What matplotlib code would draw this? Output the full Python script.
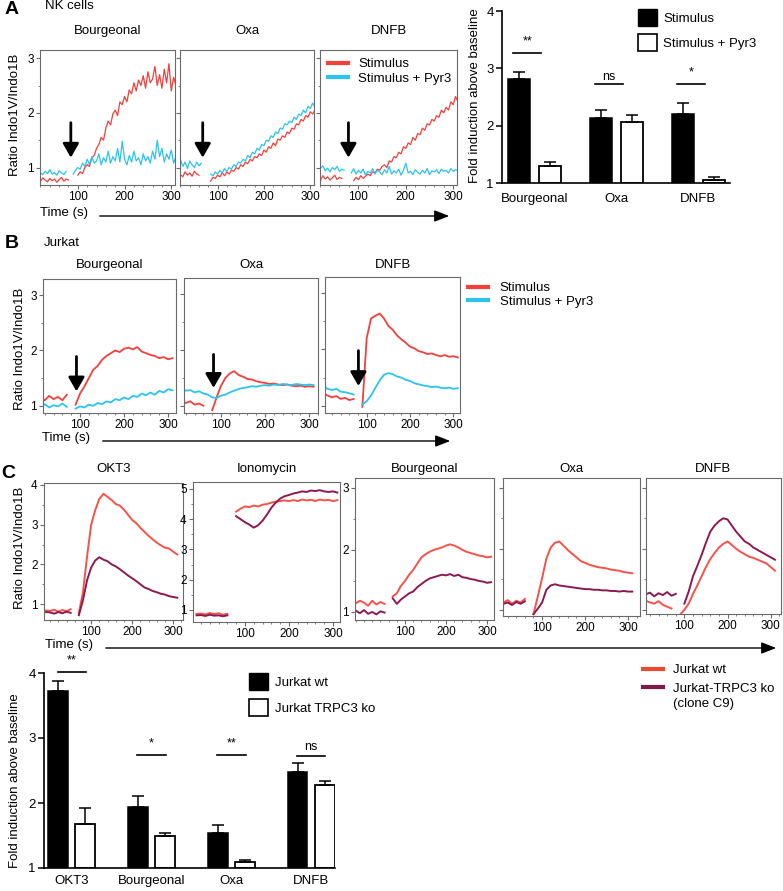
import numpy as np
import matplotlib
matplotlib.use('Agg')
import matplotlib.pyplot as plt
from matplotlib.ticker import MultipleLocator
from matplotlib.lines import Line2D
from matplotlib.patches import Patch, FancyArrowPatch

plt.rcParams['font.family'] = ['Liberation Sans', 'DejaVu Sans']
plt.rcParams['font.size'] = 9

nan = np.nan
W, H = 783, 891

RED = '#f2403c'
CYAN = '#2cc3ee'
WT = '#f4534a'
KO = '#8c1a52'

# ---------------- panel A: NK cells, sampled every 5 s ----------------
tA = np.arange(0, 315, 5)
a_names = ['Bourgeonal', 'Oxa', 'DNFB']
a_stim = [
    [0.76, 0.80, 0.74, 0.79, 0.75, 0.81, 0.77, 0.74, 0.80, 0.76, 0.79, 0.73, 0.78, 0.82, 0.75, 0.79, 0.77,
     nan, nan, nan,
     0.86, 0.92, 0.89, 1.0, 1.05, 1.02, 1.18, 1.22, 1.35, 1.42,
     1.55, 1.5, 1.72, 1.85, 1.78, 1.98, 2.05, 1.95, 2.2, 2.15,
     2.3, 2.2, 2.42, 2.35, 2.55, 2.4, 2.6, 2.5, 2.68, 2.45,
     2.75, 2.55, 2.62, 2.85, 2.5, 2.7, 2.45, 2.8, 2.55, 2.9,
     2.4, 2.65, 2.5],
    [0.85, 0.9, 0.82, 0.95, 0.87, 0.83, 0.92, 0.86, 0.9, 0.84, 0.93, 0.88, 0.86,
     nan, nan, nan, nan,
     0.75, 0.82, 0.8, 0.86, 0.83, 0.9, 0.85, 0.92, 0.88, 0.95,
     0.93, 1.0, 0.97, 1.05, 1.02, 1.1, 1.07, 1.15, 1.12, 1.2,
     1.18, 1.25, 1.22, 1.32, 1.28, 1.38, 1.35, 1.45, 1.4, 1.52,
     1.5, 1.58, 1.55, 1.65, 1.62, 1.72, 1.7, 1.8, 1.78, 1.88,
     1.85, 1.95, 1.92, 2.02, 1.98, 2.05],
    [0.8, 0.84, 0.78, 0.82, 0.76, 0.85, 0.79, 0.83, 0.77, 0.81, 0.86, 0.78, 0.82, 0.8,
     nan, nan, nan, nan,
     0.76, 0.82, 0.78, 0.85, 0.8, 0.84, 0.88, 0.85, 0.92, 0.9,
     0.97, 0.95, 1.02, 1.05, 1.0, 1.12, 1.1, 1.2, 1.18, 1.28,
     1.25, 1.38, 1.35, 1.45, 1.42, 1.55, 1.5, 1.62, 1.6, 1.72,
     1.68, 1.8, 1.78, 1.88, 1.85, 1.95, 1.92, 2.05, 2.0, 2.1,
     2.05, 2.2, 2.15, 2.3, 2.2],
]
a_pyr3 = [
    [0.88, 0.92, 0.86, 0.95, 0.90, 0.87, 0.93, 0.89, 0.96, 0.88, 0.91, 0.86, 0.94, 0.90, 0.87, 0.93,
     nan, nan,
     0.88, 0.95, 1.0, 0.97, 1.08, 1.02, 1.15, 1.05, 1.2, 1.08,
     1.12, 1.25, 1.05, 1.18, 1.1, 1.3, 1.08, 1.2, 1.12, 1.35,
     1.1, 1.48, 1.15, 1.05, 1.22, 1.1, 1.3, 1.12, 1.18, 1.05,
     1.25, 1.12, 1.2, 1.08, 1.3, 1.15, 1.5, 1.2, 1.35, 1.1,
     1.25, 1.15, 1.32, 1.08, 1.2],
    [1.05, 1.12, 1.0, 1.08, 1.15, 1.02, 1.1, 0.98, 1.12, 1.05, 1.0, 1.1, 1.03, 1.08,
     nan, nan, nan,
     0.88, 0.85, 0.92, 0.88, 0.95, 0.9, 0.98, 0.93, 1.0, 0.97,
     1.05, 1.02, 1.1, 1.08, 1.15, 1.12, 1.22, 1.18, 1.28, 1.25,
     1.35, 1.32, 1.42, 1.4, 1.5, 1.48, 1.58, 1.55, 1.65, 1.62,
     1.72, 1.7, 1.8, 1.78, 1.85, 1.82, 1.92, 1.88, 1.98, 1.95,
     2.05, 2.0, 2.12, 2.08, 2.18, 2.1],
    [1.0, 0.95, 1.02, 0.93, 0.98, 1.03, 0.94, 0.99, 0.92, 1.0, 0.96, 1.02, 0.93, 0.97, 0.95,
     nan, nan,
     0.9, 0.98, 0.88, 0.95, 0.9, 0.97, 0.86, 0.93, 0.9, 0.98,
     0.88, 0.95, 0.92, 0.87, 0.96, 0.9, 1.02, 0.88, 0.94, 0.9,
     0.97, 0.86, 0.95, 1.08, 0.9, 0.93, 0.87, 0.96, 0.91, 0.88,
     0.95, 0.9, 0.98, 0.87, 0.94, 0.92, 0.96, 0.89, 0.97, 0.93,
     0.95, 0.9, 0.98, 0.93, 0.96, 0.94],
]
a_arrow_t = [85, 68, 79]

# bar chart A
a_bar_groups = ['Bourgeonal', 'Oxa', 'DNFB']
a_bar_stim = [2.82, 2.14, 2.2]
a_bar_stim_err = [0.12, 0.14, 0.19]
a_bar_pyr3 = [1.3, 2.07, 1.05]
a_bar_pyr3_err = [0.06, 0.11, 0.05]
a_sig = ['**', 'ns', '*']
a_sig_y = [3.27, 2.72, 2.72]

# ---------------- panel B: Jurkat, every 10 s ----------------
tB = np.arange(0, 320, 10)
b_stim = [
    [1.08, 1.14, 1.1, 1.18, 1.12, 1.16, 1.1, 1.2, nan,
     1.02, 1.22, 1.35, 1.5, 1.65, 1.72, 1.83, 1.9, 1.95, 2.0,
     1.97, 2.03, 2.05, 2.02, 2.06, 1.98, 1.95, 1.92, 1.9, 1.86,
     1.88, 1.84, 1.86],
    [1.18, 1.1, 1.05, 1.08, 1.02, 1.04, 1.0, nan,
     0.92, 1.15, 1.36, 1.5, 1.58, 1.62, 1.55, 1.52, 1.48, 1.47,
     1.44, 1.42, 1.41, 1.39, 1.4, 1.38, 1.37, 1.38, 1.36, 1.35,
     1.36, 1.34, 1.35, 1.34],
    [1.22, 1.18, 1.15, 1.17, 1.12, 1.14, 1.1, 1.12, nan,
     0.98, 2.2, 2.55, 2.6, 2.64, 2.55, 2.42, 2.35, 2.25, 2.18,
     2.12, 2.05, 2.02, 1.97, 1.95, 1.92, 1.93, 1.9, 1.88, 1.9,
     1.87, 1.88, 1.86],
]
b_pyr3 = [
    [1.02, 0.98, 1.03, 0.97, 1.01, 0.99, 1.04, 0.98, nan,
     0.95, 0.99, 0.97, 1.02, 1.0, 1.05, 1.03, 1.08, 1.06, 1.12,
     1.1, 1.15, 1.12, 1.18, 1.16, 1.22, 1.19, 1.24, 1.2, 1.27,
     1.24, 1.3, 1.28],
    [1.33, 1.3, 1.27, 1.28, 1.24, 1.26, 1.22, 1.2, 1.15, 1.14,
     1.18, 1.2, 1.24, 1.27, 1.3, 1.32, 1.33, 1.35, 1.34, 1.36,
     1.37, 1.36, 1.38, 1.37, 1.39, 1.38, 1.37, 1.39, 1.38, 1.37,
     1.38, 1.37],
    [1.34, 1.3, 1.28, 1.3, 1.25, 1.24, 1.22, 1.2, nan,
     1.02, 1.08, 1.18, 1.32, 1.45, 1.55, 1.58, 1.56, 1.52, 1.5,
     1.46, 1.44, 1.4, 1.38, 1.36, 1.35, 1.33, 1.34, 1.32, 1.31,
     1.32, 1.3, 1.31],
]
b_arrow_t = [92, 83, 81]
b_arrow_top = [1.89, 1.92, 1.98]
b_arrow_tip = [1.26, 1.32, 1.35]

# ---------------- panel C: Jurkat wt vs TRPC3 ko, every 10 s ----------------
tC = np.arange(-20, 320, 10)
c_names = ['OKT3', 'Ionomycin', 'Bourgeonal', 'Oxa', 'DNFB']
c_wt = [
    [nan, 0.84, 0.83, 0.86, 0.81, 0.85, 0.82, 0.87, nan,
     0.78, 1.3, 2.2, 3.0, 3.37, 3.65, 3.78, 3.7, 3.62, 3.52,
     3.48, 3.38, 3.25, 3.12, 3.04, 2.92, 2.82, 2.72, 2.63, 2.55,
     2.48, 2.42, 2.4, 2.32, 2.25],
    [nan, 0.87, 0.88, 0.85, 0.9, 0.86, 0.89, 0.84, 0.87, nan,
     4.25, 4.35, 4.42, 4.4, 4.45, 4.42, 4.48, 4.5, 4.55, 4.58,
     4.6, 4.62, 4.6, 4.63, 4.6, 4.65, 4.62, 4.64, 4.6, 4.65,
     4.62, 4.64, 4.6, 4.63],
    [1.14, 1.18, 1.15, 1.1, 1.18, 1.12, 1.16, 1.13, nan,
     1.25, 1.3, 1.42, 1.5, 1.6, 1.68, 1.78, 1.88, 1.93, 1.97,
     2.0, 2.02, 2.04, 2.07, 2.09, 2.07, 2.04, 2.0, 1.97, 1.95,
     1.93, 1.91, 1.9, 1.88, 1.89],
    [nan, nan, nan, 1.12, 1.16, 1.1, 1.15, 1.12, 1.18, nan,
     0.93, 1.22, 1.52, 1.84, 2.02, 2.1, 2.12, 2.05, 1.98, 1.92,
     1.86, 1.8, 1.77, 1.74, 1.72, 1.7, 1.69, 1.68, 1.66, 1.65,
     1.64, 1.62, 1.61, 1.6],
    [nan, nan, nan, 1.15, 1.12, 1.1, 1.14, 1.08, 1.05, 1.02, nan, 0.92,
     1.0, 1.1, 1.26, 1.4, 1.55, 1.7, 1.83, 1.93, 2.02, 2.08,
     2.12, 2.06, 2.0, 1.95, 1.91, 1.87, 1.85, 1.82, 1.79, 1.76,
     1.7, 1.64],
]
c_ko = [
    [nan, 0.8, 0.79, 0.76, 0.8, 0.77, 0.81, 0.78, nan,
     0.72, 1.1, 1.6, 1.92, 2.1, 2.18, 2.12, 2.08, 2.0, 1.95,
     1.88, 1.8, 1.72, 1.65, 1.58, 1.5, 1.42, 1.38, 1.33, 1.3,
     1.26, 1.24, 1.2, 1.18, 1.16],
    [nan, 0.82, 0.83, 0.8, 0.84, 0.81, 0.82, 0.79, 0.82, nan,
     4.1, 4.0, 3.9, 3.82, 3.72, 3.8, 3.95, 4.15, 4.38, 4.55,
     4.68, 4.76, 4.8, 4.85, 4.88, 4.92, 4.9, 4.95, 4.93, 4.96,
     4.92, 4.9, 4.92, 4.88],
    [1.02, 0.98, 1.03, 0.97, 1.0, 0.96, 1.01, 0.99, nan,
     1.22, 1.13, 1.2, 1.25, 1.3, 1.33, 1.4, 1.45, 1.5, 1.54,
     1.56, 1.58, 1.6, 1.59, 1.61, 1.58, 1.6, 1.56, 1.55, 1.53,
     1.52, 1.5, 1.49, 1.47, 1.48],
    [nan, nan, nan, 1.1, 1.12, 1.08, 1.13, 1.1, 1.14, nan,
     0.93, 1.02, 1.12, 1.33, 1.4, 1.42, 1.4, 1.39, 1.38, 1.37,
     1.36, 1.35, 1.34, 1.34, 1.33, 1.33, 1.32, 1.32, 1.31, 1.31,
     1.3, 1.31, 1.3, 1.3],
    [nan, nan, nan, 1.25, 1.28, 1.22, 1.27, 1.24, 1.29, 1.23, 1.26, nan,
     1.1, 1.3, 1.55, 1.72, 1.9, 2.1, 2.28, 2.38, 2.45, 2.5,
     2.48, 2.38, 2.28, 2.2, 2.12, 2.08, 2.02, 1.98, 1.94, 1.9,
     1.86, 1.82],
]

# bar chart C
c_bar_groups = ['OKT3', 'Bourgeonal', 'Oxa', 'DNFB']
c_bar_wt = [3.73, 1.94, 1.54, 2.47]
c_bar_wt_err = [0.15, 0.17, 0.12, 0.15]
c_bar_ko = [1.67, 1.5, 1.1, 2.27]
c_bar_ko_err = [0.26, 0.04, 0.02, 0.07]
c_sig = ['**', '*', '**', 'ns']
c_sig_y = [4.02, 2.74, 2.74, 2.72]


fig = plt.figure(figsize=(W / 100, H / 100), dpi=100)


def add_ax(x0, x1, y0, y1):
    return fig.add_axes([x0 / W, 1 - y1 / H, (x1 - x0) / W, (y1 - y0) / H])


def fxy(x, y):
    return (x / W, 1 - y / H)


def style_trace(ax, xlim, ylim, yticks, labels):
    ax.set_xlim(*xlim)
    ax.set_ylim(*ylim)
    ax.set_xticks([100, 200, 300])
    ax.xaxis.set_minor_locator(MultipleLocator(20))
    ax.set_yticks(yticks)
    ax.yaxis.set_minor_locator(MultipleLocator(0.5))
    if not labels:
        ax.set_yticklabels([])
    for s in ax.spines.values():
        s.set_color('#6a6a6a')
        s.set_linewidth(0.8)
    ax.tick_params(which='both', direction='out', color='#6a6a6a', labelsize=8.5, pad=1.5)
    ax.tick_params(which='major', length=3)
    ax.tick_params(which='minor', length=1.5)


def down_arrow(ax, t, top, tip):
    ax.annotate('', xy=(t, tip), xytext=(t, top),
                arrowprops=dict(arrowstyle='-|>,head_width=0.4,head_length=0.7',
                                mutation_scale=12, lw=2, color='k',
                                shrinkA=0, shrinkB=0))


def time_axis(xt, yt, x0, x1, ya):
    fig.text(*fxy(xt, yt), 'Time (s)', ha='left', va='center', fontsize=9.5)
    fig.add_artist(FancyArrowPatch(fxy(x0, ya), fxy(x1, ya), transform=fig.transFigure,
                                   arrowstyle='-|>,head_width=0.35,head_length=0.9',
                                   mutation_scale=10, lw=1, color='k'))


def style_bar(ax):
    for s in ['top', 'right']:
        ax.spines[s].set_visible(False)
    for s in ['left', 'bottom']:
        ax.spines[s].set_linewidth(1.2)
    ax.tick_params(axis='x', length=0, labelsize=9.5, pad=5)
    ax.tick_params(axis='y', length=4, width=1.1, labelsize=9.5, pad=2)


# ---------------- A traces ----------------
fig.text(*fxy(5, 10), 'A', fontsize=14, fontweight='bold', ha='left', va='center')
fig.text(*fxy(45, 6), 'NK cells', fontsize=9.5, ha='left', va='center')
a_boxes = [(40, 175, 50, 185), (180, 314, 50, 185), (320, 457, 50, 185)]
for i, name in enumerate(a_names):
    ax = add_ax(*a_boxes[i])
    ax.plot(tA, a_stim[i], color=RED, lw=0.9)
    ax.plot(tA, a_pyr3[i], color=CYAN, lw=0.9)
    style_trace(ax, (19, 308), (0.68, 3.15), [1, 2, 3], i == 0)
    down_arrow(ax, a_arrow_t[i], 1.82, 1.18)
    fig.text(*fxy((a_boxes[i][0] + a_boxes[i][1]) / 2, 31), name, ha='center', va='center', fontsize=9.5)
    if i == 2:
        ax.legend([Line2D([], [], color=RED, lw=3), Line2D([], [], color=CYAN, lw=3)],
                  ['Stimulus', 'Stimulus + Pyr3'], loc='upper left', frameon=False,
                  fontsize=9.5, handlelength=1.5, handletextpad=0.8,
                  borderaxespad=0.2, labelspacing=0.2)
fig.text(*fxy(15, 115), 'Ratio Indo1V/Indo1B', rotation=90, ha='center', va='center', fontsize=9.5)
time_axis(40, 213, 97, 452, 216)

# ---------------- A bars ----------------
ax = add_ax(502, 730, 11, 183)
xa = np.arange(len(a_bar_groups))
ax.bar(xa - 0.19, np.array(a_bar_stim) - 1, bottom=1, width=0.27, color='k', edgecolor='k', lw=1.1,
       yerr=[[0] * 3, a_bar_stim_err], capsize=4.3, error_kw=dict(lw=1.1, capthick=1.1))
ax.bar(xa + 0.19, np.array(a_bar_pyr3) - 1, bottom=1, width=0.27, color='w', edgecolor='k', lw=1.3,
       yerr=[[0] * 3, a_bar_pyr3_err], capsize=4.3, error_kw=dict(lw=1.1, capthick=1.1))
for i in range(3):
    ax.plot([xa[i] - 0.26, xa[i] + 0.08], [a_sig_y[i]] * 2, color='k', lw=1.2)
    off = 0.13 if a_sig[i] == 'ns' else 0.2
    ax.text(xa[i] - 0.09, a_sig_y[i] + off, a_sig[i], ha='center', va='center', fontsize=9)
ax.set_xlim(-0.4, 2.39)
ax.set_ylim(1, 4)
ax.set_yticks([1, 2, 3, 4])
ax.set_xticks(xa)
ax.set_xticklabels(a_bar_groups)
style_bar(ax)
ax.tick_params(axis='x', pad=7)
fig.text(*fxy(475, 96), 'Fold induction above baseline', rotation=90, ha='center', va='center', fontsize=9.5)
fig.legend([Patch(facecolor='k', edgecolor='k'), Patch(facecolor='w', edgecolor='k', lw=1.2)],
           ['Stimulus', 'Stimulus + Pyr3'], loc='upper left', bbox_to_anchor=fxy(638, 9),
           frameon=False, fontsize=9.5, borderpad=0, borderaxespad=0,
           handlelength=1.45, handleheight=1.6, handletextpad=0.45, labelspacing=0.6)

# ---------------- B traces ----------------
fig.text(*fxy(5, 243), 'B', fontsize=14, fontweight='bold', ha='left', va='center')
fig.text(*fxy(44, 243), 'Jurkat', fontsize=9.5, ha='left', va='center')
b_boxes = [(43, 176, 279, 413), (184, 318, 278, 413), (325, 460, 277, 413)]
b_xlims = [(16, 318), (16, 320), (4, 315)]
for i, name in enumerate(a_names):
    ax = add_ax(*b_boxes[i])
    ax.plot(tB, b_stim[i], color=RED, lw=1.3)
    ax.plot(tB, b_pyr3[i], color=CYAN, lw=1.3)
    style_trace(ax, b_xlims[i], (0.87, 3.29), [1, 2, 3], i == 0)
    down_arrow(ax, b_arrow_t[i], b_arrow_top[i], b_arrow_tip[i])
    fig.text(*fxy((b_boxes[i][0] + b_boxes[i][1]) / 2, 265), name, ha='center', va='center', fontsize=9.5)
fig.legend([Line2D([], [], color=RED, lw=3), Line2D([], [], color=CYAN, lw=3)],
           ['Stimulus', 'Stimulus + Pyr3'], loc='upper left', bbox_to_anchor=fxy(468, 282),
           frameon=False, fontsize=9.5, borderpad=0, borderaxespad=0,
           handlelength=1.5, handletextpad=0.9, labelspacing=0.1)
fig.text(*fxy(20, 349), 'Ratio Indo1V/Indo1B', rotation=90, ha='center', va='center', fontsize=9.5)
time_axis(42, 438, 100, 453, 441)

# ---------------- C traces ----------------
fig.text(*fxy(1, 473), 'C', fontsize=14, fontweight='bold', ha='left', va='center')
c_boxes = [(44, 183, 483, 620), (193, 340, 482, 622), (355, 494, 478, 620),
           (503, 640, 478, 616), (646, 781, 478, 614)]
c_xlims = [(-15, 324), (-18, 316), (-22, 317), (9, 328), (11, 324)]
c_ylims = [(0.6, 4.05), (0.6, 5.23), (0.87, 3.16), (0.9, 3.16), (0.93, 3.16)]
c_yticks = [[1, 2, 3, 4], [1, 2, 3, 4, 5], [1, 2, 3], [1, 2, 3], [1, 2, 3]]
c_labels = [True, True, True, False, False]
for i, name in enumerate(c_names):
    ax = add_ax(*c_boxes[i])
    ax.plot(tC, c_wt[i], color=WT, lw=1.4)
    ax.plot(tC, c_ko[i], color=KO, lw=1.4)
    style_trace(ax, c_xlims[i], c_ylims[i], c_yticks[i], c_labels[i])
    fig.text(*fxy((c_boxes[i][0] + c_boxes[i][1]) / 2, 469), name, ha='center', va='center', fontsize=9.5)
fig.text(*fxy(20, 548), 'Ratio Indo1V/Indo1B', rotation=90, ha='center', va='center', fontsize=9.5)
time_axis(45, 645, 103, 779, 648)
fig.legend([Line2D([], [], color='#ea4a2e', lw=3), Line2D([], [], color='#7a1a48', lw=3)],
           ['Jurkat wt', 'Jurkat-TRPC3 ko'], loc='upper left', bbox_to_anchor=fxy(643, 664),
           frameon=False, fontsize=9.5, borderpad=0, borderaxespad=0,
           handlelength=1.5, handletextpad=0.75, labelspacing=0.5)
fig.text(*fxy(673, 704), '(clone C9)', ha='left', va='center', fontsize=9.5)

# ---------------- C bars ----------------
ax = add_ax(44, 335, 660, 868)
xc = np.arange(len(c_bar_groups))
ax.bar(xc - 0.17, np.array(c_bar_wt) - 1, bottom=1, width=0.25, color='k', edgecolor='k', lw=1.1,
       yerr=[[0] * 4, c_bar_wt_err], capsize=4, error_kw=dict(lw=1.1, capthick=1.1))
ax.bar(xc + 0.17, np.array(c_bar_ko) - 1, bottom=1, width=0.25, color='w', edgecolor='k', lw=1.3,
       yerr=[[0] * 4, c_bar_ko_err], capsize=4, error_kw=dict(lw=1.1, capthick=1.1))
for i in range(4):
    ax.plot([xc[i] - 0.18, xc[i] + 0.18], [c_sig_y[i]] * 2, color='k', lw=1.2)
    off = 0.14 if c_sig[i] == 'ns' else 0.17
    ax.text(xc[i], c_sig_y[i] + off, c_sig[i], ha='center', va='center', fontsize=9)
ax.set_xlim(-0.35, 3.3)
ax.set_ylim(1, 4.2)
ax.set_yticks([1, 2, 3, 4])
ax.spines['left'].set_bounds(1, 4)
ax.set_xticks(xc)
ax.set_xticklabels(c_bar_groups)
style_bar(ax)
fig.text(*fxy(15, 781), 'Fold induction above baseline', rotation=90, ha='center', va='center', fontsize=9.5)
fig.legend([Patch(facecolor='k', edgecolor='k'), Patch(facecolor='w', edgecolor='k', lw=1.2)],
           ['Jurkat wt', 'Jurkat TRPC3 ko'], loc='upper left', bbox_to_anchor=fxy(249, 673),
           frameon=False, fontsize=9.5, borderpad=0, borderaxespad=0,
           handlelength=1.45, handleheight=1.6, handletextpad=0.5, labelspacing=0.7)

fig.savefig('out.png', dpi=100)
